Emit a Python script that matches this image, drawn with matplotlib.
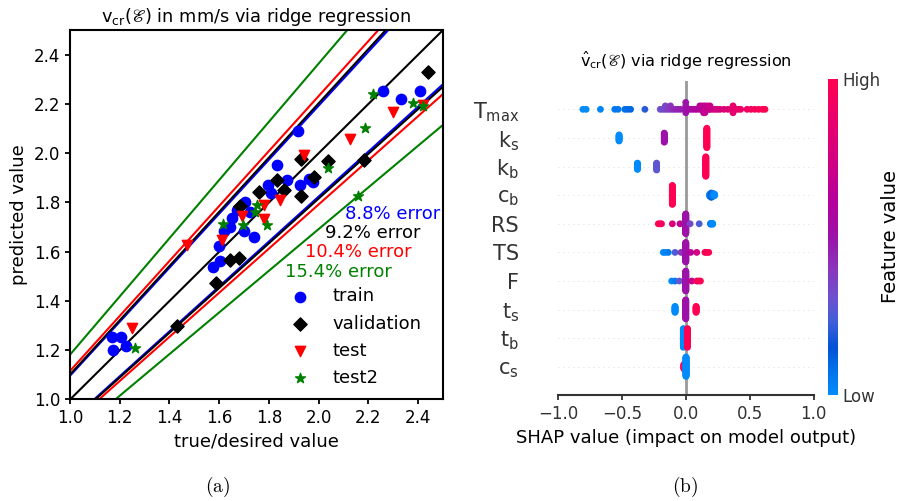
import numpy as np
import matplotlib
matplotlib.use('Agg')
import matplotlib.pyplot as plt
from matplotlib.colors import LinearSegmentedColormap, Normalize
from matplotlib.cm import ScalarMappable

plt.rcParams['mathtext.fontset'] = 'dejavusans'

# ---- (a) predicted vs true, ridge regression ----
train_x = [1.174, 1.170, 1.204, 1.224, 1.574, 1.603, 1.598, 1.619, 1.644, 1.650,
           1.670, 1.704, 1.724, 1.701, 1.740, 1.798, 1.807, 1.831, 1.872, 1.925,
           1.959, 1.979, 1.918, 2.258, 2.330, 2.408]
train_y = [1.201, 1.252, 1.255, 1.217, 1.536, 1.563, 1.623, 1.685, 1.701, 1.735,
           1.769, 1.802, 1.762, 1.685, 1.658, 1.870, 1.837, 1.951, 1.893, 1.870,
           1.897, 1.884, 2.089, 2.253, 2.220, 2.253]

val_x = [1.432, 1.587, 1.644, 1.680, 1.684, 1.758, 1.831, 1.861, 1.928, 1.982,
         1.928, 2.039, 2.183, 2.441]
val_y = [1.300, 1.474, 1.566, 1.573, 1.785, 1.843, 1.890, 1.850, 1.826, 1.904,
         1.977, 1.969, 1.974, 2.330]

test_x = [1.251, 1.469, 1.613, 1.690, 1.780, 1.780, 1.845, 1.939, 2.126, 2.298, 2.421]
test_y = [1.291, 1.627, 1.647, 1.744, 1.789, 1.731, 1.809, 1.992, 2.056, 2.168, 2.195]

test2_x = [1.261, 1.617, 1.695, 1.751, 1.744, 1.791, 2.039, 2.160, 2.187, 2.218, 2.379, 2.419]
test2_y = [1.210, 1.712, 1.708, 1.789, 1.762, 1.708, 1.938, 1.827, 2.103, 2.239, 2.202, 2.191]

# relative error bands (train, validation, test, test2)
errors = [0.088, 0.092, 0.104, 0.154]
err_colors = ['b', 'k', 'r', 'g']
err_text_pos = [(2.106, 1.752), (2.026, 1.674), (1.945, 1.597), (1.865, 1.518)]

# ---- (b) SHAP summary (top row first) ----
features = [r'T$_{\rm max}$', r'k$_{\rm s}$', r'k$_{\rm b}$', r'c$_{\rm b}$', 'RS', 'TS', 'F',
            r't$_{\rm s}$', r't$_{\rm b}$', r'c$_{\rm s}$']

tmax_shap = [-0.805, -0.78, -0.668, -0.556, -0.53, -0.477, -0.455, -0.432, -0.32,
             -0.20, -0.18, -0.16, -0.14, -0.12, -0.10, -0.08, -0.06, -0.04, 0.0,
             0.02, 0.04, 0.06, 0.08, 0.10, 0.11, 0.12, 0.13, 0.14, 0.15, 0.16, 0.17,
             0.18, 0.19, 0.21, 0.23, 0.25, 0.27, 0.30, 0.33, 0.36, 0.37, 0.39, 0.41,
             0.43, 0.48, 0.51, 0.54, 0.57, 0.60, 0.62]
tmax_count = [1, 1, 1, 1, 1, 1, 1, 1, 1,
              1, 1, 2, 1, 2, 1, 1, 1, 1, 4,
              1, 1, 1, 1, 1, 1, 1, 2, 1, 3, 1, 1,
              1, 2, 1, 1, 1, 1, 1, 1, 1, 2, 1, 1,
              1, 1, 1, 1, 1, 1, 1]
tmax_level = [0.0, 0.0, 0.02, 0.05, 0.06, 0.08, 0.09, 0.10, 0.20,
              0.30, 0.32, 0.34, 0.37, 0.40, 0.42, 0.44, 0.45, 0.46, 0.50,
              0.53, 0.55, 0.57, 0.59, 0.62, 0.63, 0.64, 0.65, 0.66, 0.67, 0.68, 0.69,
              0.70, 0.71, 0.73, 0.74, 0.76, 0.77, 0.80, 0.82, 0.84, 0.85, 0.86, 0.88,
              0.89, 0.92, 0.94, 0.96, 0.97, 0.99, 1.0]

ks_shap = [-0.522, -0.168, 0.165]
ks_count = [11, 16, 33]
ks_level = [0.0, 0.5, 1.0]

kb_shap = [-0.378, -0.228, 0.157]
kb_count = [12, 13, 35]
kb_level = [0.0, 0.28, 1.0]

cb_shap = [-0.105, 0.188, 0.20, 0.212, 0.225]
cb_count = [36, 5, 9, 6, 4]
cb_level = [1.0, 0.05, 0.12, 0.06, 0.0]

rs_shap = [-0.215, -0.20, -0.19, -0.105, -0.045, 0.0, 0.034, 0.105, 0.195, 0.21]
rs_count = [1, 1, 1, 1, 1, 47, 1, 1, 3, 3]
rs_level = [1.0, 0.98, 0.96, 0.8, 0.65, 0.5, 0.35, 0.25, 0.05, 0.0]

ts_shap = [-0.176, -0.16, -0.137, -0.084, -0.037, 0.0, 0.039, 0.086, 0.15, 0.165, 0.18]
ts_count = [1, 1, 1, 1, 1, 50, 1, 1, 1, 1, 1]
ts_level = [0.0, 0.02, 0.05, 0.25, 0.4, 0.5, 0.62, 0.75, 0.95, 0.98, 1.0]

f_shap = [-0.11, -0.084, -0.05, 0.0, 0.047, 0.086, 0.10, 0.115]
f_count = [1, 1, 1, 53, 1, 1, 1, 1]
f_level = [0.0, 0.05, 0.3, 0.5, 0.7, 0.95, 0.98, 1.0]

tsub_shap = [-0.084, 0.0, 0.081]
tsub_count = [12, 36, 12]
tsub_level = [0.0, 0.5, 1.0]

tb_shap = [-0.019, 0.013]
tb_count = [30, 30]
tb_level = [0.0, 1.0]

cs_shap = [-0.014, 0.002]
cs_count = [12, 48]
cs_level = [1.0, 0.0]

rows = [(tmax_shap, tmax_count, tmax_level), (ks_shap, ks_count, ks_level),
        (kb_shap, kb_count, kb_level), (cb_shap, cb_count, cb_level),
        (rs_shap, rs_count, rs_level), (ts_shap, ts_count, ts_level),
        (f_shap, f_count, f_level), (tsub_shap, tsub_count, tsub_level),
        (tb_shap, tb_count, tb_level), (cs_shap, cs_count, cs_level)]

red_blue = LinearSegmentedColormap.from_list('red_blue', [
    (0.0, '#008bfc'), (0.08, '#0070e8'), (0.15, '#0052d6'), (0.23, '#3f5fd8'),
    (0.30, '#6b52d0'), (0.40, '#8a35bc'), (0.50, '#9c12a8'), (0.62, '#b5009a'),
    (0.75, '#d20080'), (0.88, '#ea006a'), (1.0, '#ff0052')])


def swarm(vals, row_height=0.4, nbins=100):
    # beeswarm offsets like shap's summary plot
    vals = np.asarray(vals, float)
    quant = np.round(nbins * (vals - vals.min()) / (vals.max() - vals.min() + 1e-8))
    order = np.argsort(quant, kind='stable')
    ys = np.zeros(len(vals))
    layer, last = 0, None
    for i in order:
        if quant[i] != last:
            layer = 0
        ys[i] = np.ceil(layer / 2) * ((layer % 2) * 2 - 1)
        layer += 1
        last = quant[i]
    ys *= 0.9 * (row_height / np.max(ys + 1))
    return ys


fig = plt.figure(figsize=(8.99, 5.01), dpi=100)

# ---------------- (a) ----------------
ax1 = fig.add_axes([0.0779, 0.2026, 0.4149, 0.7375])
for e, c in zip(errors, err_colors):
    ax1.axline((0, 0), slope=1 / (1 - e), color=c, lw=1.5)
    ax1.axline((0, 0), slope=1 - e, color=c, lw=1.5)
ax1.axline((0, 0), slope=1, color='k', lw=1.5)

ax1.scatter(train_x, train_y, c='b', marker='o', s=55, label='train', zorder=3)
ax1.scatter(val_x, val_y, c='k', marker='D', s=45, label='validation', zorder=3)
ax1.scatter(test_x, test_y, c='r', marker='v', s=55, label='test', zorder=3)
ax1.scatter(test2_x, test2_y, c='g', marker='*', s=55, label='test2', zorder=3)

for e, c, (tx, ty) in zip(errors, err_colors, err_text_pos):
    ax1.text(tx, ty, f'{e * 100:.1f}% error', color=c, fontsize=13, va='center')

ax1.set_xlim(1.0, 2.5)
ax1.set_ylim(1.0, 2.5)
ax1.set_xticks(np.arange(1.0, 2.41, 0.2))
ax1.set_yticks(np.arange(1.0, 2.41, 0.2))
ax1.tick_params(labelsize=12, width=1.3)
for sp in ax1.spines.values():
    sp.set_linewidth(1.5)
ax1.set_xlabel('true/desired value', fontsize=13)
ax1.set_ylabel('predicted value', fontsize=13)
ax1.set_title(r'v$_{\rm cr}$($\mathscr{E}$) in mm/s via ridge regression', fontsize=12.8)
ax1.legend(loc='lower right', bbox_to_anchor=(0.987, -0.009), frameon=False, fontsize=13)

# ---------------- (b) ----------------
ax2 = fig.add_axes([0.6207, 0.2106, 0.2842, 0.6283])
n_rows = len(rows)
norm = Normalize(0, 1)
ax2.axvline(0, color='#999999', lw=2, zorder=-1)
for k, (vals, counts, levels) in enumerate(rows):
    pos = n_rows - 1 - k
    ax2.axhline(pos, color='#cccccc', lw=0.6, dashes=(1, 5), zorder=-1)
    xs = np.repeat(vals, counts)
    cs = np.repeat(levels, counts)
    ys = pos + swarm(xs)
    ax2.scatter(xs, ys, c=cs, cmap=red_blue, norm=norm, s=24, linewidths=0, zorder=3)

ax2.set_xlim(-1.0, 1.0)
ax2.set_ylim(-1, n_rows)
ax2.set_yticks(range(n_rows))
ax2.set_yticklabels(features[::-1])
ax2.set_xticks([-1.0, -0.5, 0.0, 0.5, 1.0])
for side in ['top', 'right', 'left']:
    ax2.spines[side].set_visible(False)
ax2.spines['bottom'].set_linewidth(1.5)
ax2.spines['bottom'].set_color('#333333')
ax2.tick_params(axis='y', length=0, pad=28, labelsize=15, labelcolor='#333333')
ax2.tick_params(axis='x', labelsize=12, width=1.3, color='#333333', labelcolor='#333333')
ax2.set_xlabel('SHAP value (impact on model output)', fontsize=13)
ax2.set_title(r'$\hat{\rm v}_{\rm cr}$($\mathscr{E}$) via ridge regression', fontsize=11.6, pad=10)

cax = fig.add_axes([0.921, 0.2116, 0.0111, 0.6307])
sm = ScalarMappable(norm=norm, cmap=red_blue)
cb = fig.colorbar(sm, cax=cax, ticks=[0, 1])
cb.set_ticklabels(['Low', 'High'])
cb.ax.tick_params(labelsize=12, length=0, labelcolor='#333333')
cb.outline.set_visible(False)
cb.set_label('Feature value', fontsize=14, labelpad=0)

fig.text(218 / 899, 1 - 487 / 501, r'$\mathrm{(a)}$', ha='center', va='center',
         fontsize=14, math_fontfamily='cm')
fig.text(685 / 899, 1 - 487 / 501, r'$\mathrm{(b)}$', ha='center', va='center',
         fontsize=14, math_fontfamily='cm')

fig.savefig('out.png', dpi=100)
